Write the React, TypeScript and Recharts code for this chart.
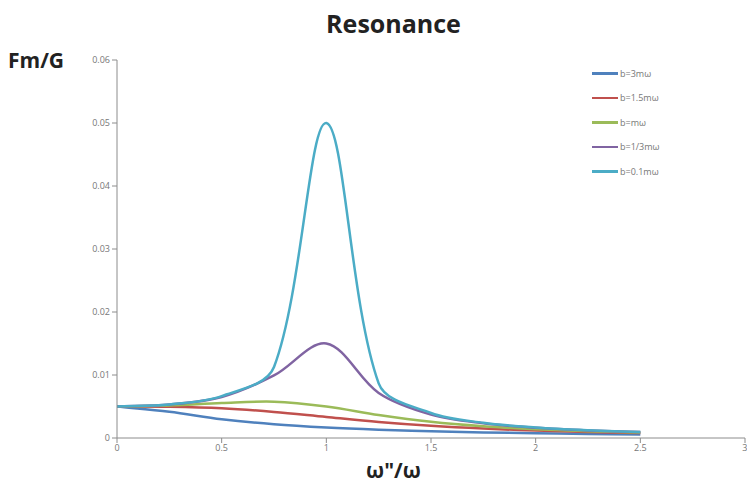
import React from "react";
import { LineChart, Line, XAxis, YAxis } from "recharts";

const ratio = [0, 0.25, 0.5, 0.75, 1.0, 1.25, 1.5, 1.75, 2.0, 2.25, 2.5];

const b3 = [0.005, 0.004165, 0.002981, 0.002181, 0.001667, 0.001319, 0.001071, 0.000886, 0.000745, 0.000635, 0.000546];
const b15 = [0.005, 0.004952, 0.004714, 0.004142, 0.003333, 0.002554, 0.001943, 0.001498, 0.001179, 0.000947, 0.000775];
const b1 = [0.005, 0.005153, 0.005547, 0.005759, 0.005, 0.003648, 0.002561, 0.001849, 0.001387, 0.001077, 0.00086];
const bThird = [0.005, 0.005312, 0.006508, 0.009923, 0.015, 0.007143, 0.003714, 0.002333, 0.001627, 0.00121, 0.000941];
const bTenth = [0.005, 0.005331, 0.006652, 0.011264, 0.05, 0.008677, 0.003972, 0.002416, 0.001663, 0.001229, 0.000951];

const seriesNames = ["b=3mω", "b=1.5mω", "b=mω", "b=1/3mω", "b=0.1mω"];
const seriesKeys = ["b3", "b15", "b1", "bThird", "bTenth"];
const seriesColors = ["#4F81BD", "#C0504D", "#9BBB59", "#8064A2", "#4BACC6"];
const seriesValues = [b3, b15, b1, bThird, bTenth];

const xTicks = [0, 0.5, 1, 1.5, 2, 2.5, 3];
const yTicks = [0, 0.01, 0.02, 0.03, 0.04, 0.05, 0.06];

const data = ratio.map((r, i) => {
  const row: Record<string, number> = { r };
  seriesKeys.forEach((k, j) => {
    row[k] = seriesValues[j][i];
  });
  return row;
});

// Spreadsheet-style smoothed line: Bezier segments whose handles follow the
// neighbour chord, scaled by the relative segment lengths (no overshoot dips).
function smoothCurve(context: any) {
  let pts: number[][] = [];
  const dist = (a: number[], b: number[]) => Math.hypot(b[0] - a[0], b[1] - a[1]);
  return {
    areaStart() {},
    areaEnd() {},
    lineStart() {
      pts = [];
    },
    lineEnd() {
      const n = pts.length;
      if (n === 0) return;
      context.moveTo(pts[0][0], pts[0][1]);
      for (let i = 0; i < n - 1; i++) {
        const p0 = pts[i - 1] || pts[i];
        const p1 = pts[i];
        const p2 = pts[i + 1];
        const p3 = pts[i + 2] || pts[i + 1];
        const d01 = dist(p0, p1);
        const d12 = dist(p1, p2);
        const d23 = dist(p2, p3);
        const f1 = d01 + d12 > 0 ? d12 / (d01 + d12) / 3 : 0;
        const f2 = d12 + d23 > 0 ? d12 / (d12 + d23) / 3 : 0;
        const k1 = i === 0 ? 1 / 3 : f1;
        const k2 = i === n - 2 ? 1 / 3 : f2;
        const c1x = p1[0] + (p2[0] - p0[0]) * k1;
        const c1y = p1[1] + (p2[1] - p0[1]) * k1;
        const c2x = p2[0] - (p3[0] - p1[0]) * k2;
        const c2y = p2[1] - (p3[1] - p1[1]) * k2;
        context.bezierCurveTo(c1x, c1y, c2x, c2y, p2[0], p2[1]);
      }
    },
    point(x: number, y: number) {
      pts.push([+x, +y]);
    },
  };
}

const font = "'Open Sans', 'Liberation Sans', sans-serif";
const axisColor = "#8c8c8c";

export default function App() {
  return (
    <div style={{ position: "absolute", left: 0, top: 0, width: 747, height: 498, background: "#fff", fontFamily: font }}>
      <LineChart width={747} height={498} data={data} margin={{ top: 60, right: 2, bottom: 0, left: 0 }}>
        <XAxis
          dataKey="r"
          type="number"
          domain={[0, 3]}
          ticks={xTicks}
          height={60}
          stroke={axisColor}
          tickSize={5}
          tick={{ fill: "#777", fontSize: 9, fontFamily: font }}
          allowDataOverflow
        />
        <YAxis
          type="number"
          domain={[0, 0.06]}
          ticks={yTicks}
          width={117}
          stroke={axisColor}
          tickSize={5}
          tick={{ fill: "#777", fontSize: 9, fontFamily: font }}
        />
        {seriesKeys.map((k, i) => (
          <Line
            key={k}
            dataKey={k}
            name={seriesNames[i]}
            type={smoothCurve as any}
            stroke={seriesColors[i]}
            strokeWidth={2.5}
            dot={false}
            activeDot={false}
            isAnimationActive={false}
          />
        ))}
      </LineChart>
      <div style={{ position: "absolute", left: 592, top: 61, fontSize: 9, color: "#777" }}>
        {seriesNames.map((n, i) => (
          <div key={n} style={{ display: "flex", alignItems: "center", height: 24.5 }}>
            <div style={{ width: 26, height: 2.5, background: seriesColors[i], marginRight: 2 }} />
            <span>{n}</span>
          </div>
        ))}
      </div>
      <div style={{ position: "absolute", left: 0, width: 747, top: 6, textAlign: "center", fontSize: 25, fontWeight: 700, color: "#222", paddingLeft: 40, boxSizing: "border-box" }}>
        Resonance
      </div>
      <div style={{ position: "absolute", left: 8, top: 46, fontSize: 21, fontWeight: 700, color: "#222" }}>
        Fm/G
      </div>
      <div style={{ position: "absolute", left: 0, width: 747, top: 456, textAlign: "center", fontSize: 21, fontWeight: 700, color: "#222", paddingLeft: 40, boxSizing: "border-box" }}>
        ω"/ω
      </div>
    </div>
  );
}
